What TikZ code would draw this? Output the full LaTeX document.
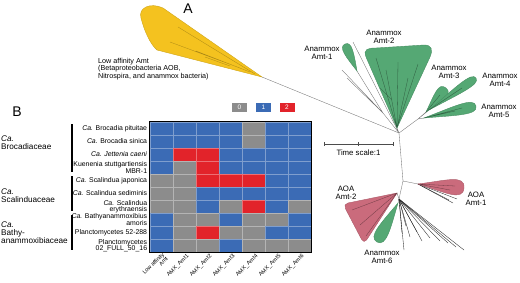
\documentclass[tikz,border=0pt]{standalone}
\usepackage{fontspec}
\setmainfont{Liberation Sans}
\usetikzlibrary{calc}

\definecolor{hm0}{HTML}{8C8C8C}
\definecolor{hm1}{HTML}{3B6BB5}
\definecolor{hm2}{HTML}{E2232A}
\definecolor{cladeyel}{HTML}{F4C21F}
\definecolor{cladegrn}{HTML}{55A874}
\definecolor{cladepnk}{HTML}{CA6B7C}

% teardrop clade: style, base, far end, opening angle, bulb width
\newcommand{\cladeleaf}[5]{%
  \filldraw[#1] (#2) .. controls ($(#2)!0.6!#4:(#3)$) and ($(#3)!#5!-90:(#2)$) .. (#3)
    .. controls ($(#3)!#5!90:(#2)$) and ($(#2)!0.6!-#4:(#3)$) .. (#2) -- cycle;}

\begin{document}
\begin{tikzpicture}[
    x=1pt, y=-1pt,
    cell/.style={
      rectangle, minimum width=23pt, minimum height=13pt,
      inner sep=0pt, draw=white, draw opacity=0.35, line width=0.4pt
    },
    rowlab/.style={anchor=east, align=right, inner sep=1pt,
      font=\fontsize{6.9}{6.3}\selectfont},
    collab/.style={anchor=east, rotate=45, align=right, inner sep=0.5pt,
      font=\fontsize{5.6}{5.4}\selectfont},
    famlab/.style={anchor=west, align=left, inner sep=0pt,
      font=\fontsize{8.2}{8}\selectfont},
    cladelab/.style={align=center, inner sep=0pt,
      font=\fontsize{7.8}{8.2}\selectfont},
    legbox/.style={minimum width=15pt, minimum height=9pt, inner sep=0pt,
      text=white, font=\fontsize{6.5}{6.5}\selectfont},
    paneltag/.style={inner sep=0pt, font=\fontsize{14}{14}\selectfont},
    branch/.style={draw=black!55, line width=0.35pt},
    fanline/.style={draw=black!85, line width=0.35pt},
    yelclade/.style={fill=cladeyel, draw=cladeyel!85!black, line width=0.4pt},
    grnclade/.style={fill=cladegrn, draw=cladegrn!85!black, line width=0.4pt},
    pnkclade/.style={fill=cladepnk, draw=cladepnk!85!black, line width=0.4pt},
    vein/.style={line width=0.3pt},
    famline/.style={line width=1.1pt},
    hmframe/.style={line width=1pt}
  ]
  \useasboundingbox (0,0) rectangle (520,282);

  \node[paneltag] (tagA) at (188,9) {A};
  \node[paneltag] (tagB) at (17,112) {B};

  % ---- panel B: heatmap ----
  \foreach \vals [count=\r] in {{1,1,1,1,0,1,1}, {1,1,1,1,0,1,1},
      {1,2,2,1,1,1,1}, {1,0,2,1,1,1,1}, {0,0,2,2,2,1,1}, {0,0,1,1,1,1,1},
      {0,0,1,0,2,1,0}, {1,0,0,1,0,0,1}, {1,0,2,0,0,1,1}, {1,0,0,1,0,0,0}}
    \foreach \v [count=\c] in \vals
      \node[cell, fill=hm\v] (cell-\r-\c) at ({138.5+23*\c},{115.5+13*\r}) {};
  \draw[hmframe] (cell-1-1.north west) rectangle (cell-10-7.south east);

  \foreach \lab [count=\r] in {{\textit{Ca.} Brocadia pituitae},
      {\textit{Ca.} Brocadia sinica}, {\textit{Ca. Jettenia caeni}},
      {Kuenenia stuttgartiensis\\MBR-1}, {\textit{Ca.} Scalindua japonica},
      {\textit{Ca.} Scalindua sediminis}, {\textit{Ca.} Scalindua\\erythraensis},
      {\textit{Ca.} Bathyanammoxibius\\amoris}, {Planctomycetes 52-288},
      {Planctomycetes\\02\_FULL\_50\_16}}
    \node[rowlab] (row-\r) at ([xshift=-1.5pt]cell-\r-1.west) {\lab};

  \foreach \lab [count=\c] in {{Low affinity\\Amt}, AMX\_Amt1, AMX\_Amt2,
      AMX\_Amt3, AMX\_Amt4, AMX\_Amt5, AMX\_Amt6}
    \node[collab] (col-\c) at ([xshift=4pt, yshift=-3pt]cell-10-\c.south) {\lab};

  \foreach \v/\x in {0/239.5, 1/263.5, 2/287}
    \node[legbox, fill=hm\v] (leg-\v) at (\x,107.5) {\v};

  \node[famlab] (fam-broc) at (1,143) {\textit{Ca.}\\Brocadiaceae};
  \node[famlab] (fam-scal) at (1,195.5) {\textit{Ca.}\\Scalinduaceae};
  \node[famlab] (fam-bathy) at (1,233) {\textit{Ca.}\\Bathy-\\anammoxibiaceae};
  \draw[famline] (72,124) -- (72,172);
  \draw[famline] (72,176) -- (72,211);
  \draw[famline] (72,215) -- (72,250);

  % ---- panel A: tree ----
  \coordinate (ytip) at (262,77);
  \coordinate (c1) at (399,133);
  \coordinate (c2) at (403,181);
  \coordinate (c3) at (399,199);
  \coordinate (a1) at (383,113);
  \coordinate (a345) at (418,119);
  \coordinate (t2) at (397,128);
  \coordinate (b1) at (357,71);
  \coordinate (b3) at (426,112);
  \coordinate (b4) at (429,110);
  \coordinate (b5) at (424,118);
  \coordinate (b6) at (398,203);
  \coordinate (boa1) at (418,184);
  \coordinate (toa2) at (397,193);

  % low affinity clade
  \filldraw[yelclade] (ytip) -- (163,8) .. controls (150,2) and (138,8) .. (141,18)
    .. controls (144,30) and (150,44) .. (157,50) -- cycle;
  \draw[vein, cladeyel!70!black] (255,74) -- (178,27) (250,72) -- (196,51)
    (240,68) -- (170,42) (230,66) -- (205,57);
  \draw[branch] (ytip) -- (c1);

  % anammox clades
  \draw[branch] (c1) -- (a1) (a1) -- (b1) (a1) -- (342,70) (a1) -- (347,78)
    (c1) -- (353,42) (c1) -- (t2);
  \cladeleaf{grnclade}{b1}{345,44}{14}{0.26}
  \filldraw[grnclade] (t2) -- (366,57) .. controls (363,49) and (368,48) .. (376,48)
    -- (424,45) .. controls (432,45) and (433,50) .. (430,57) -- cycle;
  \draw[vein, cladegrn!55!black] (t2) -- (376,58) (t2) -- (386,70) (t2) -- (398,62)
    (t2) -- (408,78) (t2) -- (418,64) (392,100) -- (380,88);
  \draw[branch] (c1) -- (a345) (a345) -- (b3) (a345) -- (b4) (a345) -- (b5);
  \cladeleaf{grnclade}{b3}{446,88}{14}{0.32}
  \cladeleaf{grnclade}{b4}{476,78}{6}{0.14}
  \cladeleaf{grnclade}{b5}{476,106}{8}{0.18}
  \draw[vein, cladegrn!55!black] (b3) -- (440,95) (b4) -- (462,88) (b5) -- (462,108)
    (b5) -- (455,111);

  % AOA and remaining clades
  \draw[branch] (c1) -- (c2) (c2) -- (boa1) (c2) -- (c3) (c3) -- (toa2) (c3) -- (b6);
  \foreach \x/\y in {453/203, 449/200, 457/199}
    \draw[fanline] (boa1) -- (\x,\y);
  \cladeleaf{pnkclade}{boa1}{464,188}{12}{0.3}
  \draw[vein, cladepnk!55!black] (boa1) -- (450,190) (boa1) -- (455,186);
  \filldraw[pnkclade] (toa2) [rounded corners=5pt] -- (343,204) -- (364,244)
    [sharp corners] -- cycle;
  \draw[vein, cladepnk!55!black] (toa2) -- (352,210) (toa2) -- (360,225) (toa2) -- (366,236);
  \cladeleaf{grnclade}{b6}{377,242}{12}{0.24}
  \foreach \x/\y in {464/250, 456/247, 448/243, 440/241, 430/238, 422/241,
      417/232, 410/237, 406/226, 404/250, 402/233}
    \draw[fanline] (c3) -- (\x,\y);

  % clade labels
  \node[cladelab] (l-amt1) at (322,53) {Anammox\\Amt-1};
  \node[cladelab] (l-amt2) at (384,37) {Anammox\\Amt-2};
  \node[cladelab] (l-amt3) at (449,72) {Anammox\\Amt-3};
  \node[cladelab] (l-amt4) at (500,80) {Anammox\\Amt-4};
  \node[cladelab] (l-amt5) at (499,111) {Anammox\\Amt-5};
  \node[cladelab] (l-amt6) at (382,257) {Anammox\\Amt-6};
  \node[cladelab] (l-aoa1) at (476,199) {AOA\\Amt-1};
  \node[cladelab] (l-aoa2) at (346,193) {AOA\\Amt-2};
  \node[anchor=west, align=left, inner sep=0pt, font=\fontsize{7.2}{6.4}\selectfont]
    (l-low) at (98,69) {Low affinity Amt\\(Betaproteobacteria AOB,\\Nitrospira, and anammox bacteria)};

  % scale bar
  \coordinate (sb1) at (324,144);
  \coordinate (sb2) at (393,144);
  \draw[branch, draw=black!70] (sb1) -- (sb2);
  \foreach \x in {324, 358.5, 393}
    \draw[branch, draw=black!70] (\x,142) -- (\x,146);
  \node[cladelab] (l-scale) at (358.5,153) {Time scale:1};
\end{tikzpicture}
\end{document}
